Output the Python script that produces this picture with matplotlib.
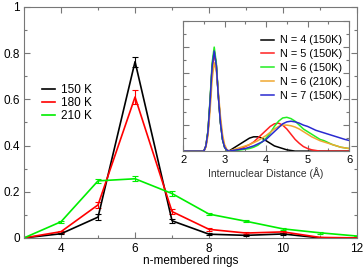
import numpy as np
import matplotlib.pyplot as plt
from matplotlib.lines import Line2D
from matplotlib.ticker import MultipleLocator

plt.rcParams['font.family'] = ['Liberation Sans', 'DejaVu Sans']

# main panel: ring-size distribution
rings = [3, 4, 5, 6, 7, 8, 9, 10, 11, 12]
p150 = [0.0, 0.018, 0.09, 0.763, 0.074, 0.016, 0.011, 0.017, 0.0, 0.0]
e150 = [0.0, 0.003, 0.012, 0.022, 0.008, 0.004, 0.003, 0.004, 0.002, 0.0]
p180 = [0.0, 0.027, 0.143, 0.61, 0.114, 0.037, 0.021, 0.026, 0.002, 0.0]
e180 = [0.0, 0.004, 0.014, 0.03, 0.012, 0.005, 0.004, 0.004, 0.002, 0.0]
p210 = [0.0, 0.07, 0.247, 0.256, 0.192, 0.103, 0.072, 0.039, 0.022, 0.008]
e210 = [0.0, 0.004, 0.01, 0.01, 0.01, 0.005, 0.004, 0.004, 0.003, 0.0]
temps = ['150 K', '180 K', '210 K']

# inset: internuclear distance distributions
dist = [2.0, 2.4, 2.5, 2.55, 2.6, 2.65, 2.7, 2.75, 2.8, 2.85, 2.9, 2.95, 3.0, 3.05,
        3.1, 3.2, 3.3, 3.4, 3.5, 3.6, 3.7, 3.8, 3.9, 4.0, 4.1, 4.2, 4.3, 4.4, 4.5,
        4.6, 4.7, 4.8, 4.9, 5.0, 5.1, 5.2, 5.3, 5.4, 5.5, 5.6, 5.7, 5.8, 5.9, 6.0]
g4 = [0, 0, 0.0, 0.04, 0.15, 0.38, 0.65, 0.77, 0.66, 0.42, 0.22, 0.09, 0.03, 0.01,
      0.0, 0.02, 0.04, 0.06, 0.08, 0.1, 0.11, 0.11, 0.1, 0.08, 0.06, 0.04, 0.03, 0.02, 0.01,
      0.005, 0.0, 0.0, 0.0, 0.0, 0.0, 0.0, 0.0, 0.0, 0.0, 0.0, 0.0, 0.0, 0.0, 0.0]
g5 = [0, 0, 0.0, 0.04, 0.15, 0.37, 0.64, 0.76, 0.66, 0.43, 0.23, 0.1, 0.035, 0.01,
      0.0, 0.005, 0.01, 0.02, 0.035, 0.05, 0.07, 0.1, 0.13, 0.16, 0.19, 0.21, 0.215, 0.2, 0.17,
      0.13, 0.09, 0.06, 0.035, 0.02, 0.01, 0.005, 0.0, 0.0, 0.0, 0.0, 0.0, 0.0, 0.0, 0.0]
g6 = [0, 0, 0.0, 0.04, 0.16, 0.4, 0.68, 0.8, 0.68, 0.43, 0.22, 0.09, 0.03, 0.008,
      0.0, 0.003, 0.006, 0.01, 0.015, 0.02, 0.03, 0.045, 0.07, 0.1, 0.14, 0.19, 0.23, 0.255, 0.26,
      0.25, 0.23, 0.2, 0.17, 0.15, 0.13, 0.11, 0.09, 0.08, 0.065, 0.05, 0.04, 0.03, 0.025, 0.02]
g6h = [0, 0, 0.0, 0.03, 0.12, 0.31, 0.55, 0.68, 0.62, 0.45, 0.27, 0.13, 0.05, 0.015,
       0.0, 0.01, 0.02, 0.03, 0.04, 0.05, 0.065, 0.08, 0.1, 0.12, 0.145, 0.17, 0.19, 0.2, 0.2,
       0.195, 0.185, 0.17, 0.15, 0.13, 0.11, 0.095, 0.08, 0.07, 0.06, 0.05, 0.04, 0.03, 0.025, 0.02]
g7 = [0, 0, 0.0, 0.04, 0.15, 0.38, 0.65, 0.77, 0.66, 0.42, 0.22, 0.09, 0.03, 0.01,
      0.0, 0.005, 0.01, 0.015, 0.02, 0.03, 0.04, 0.055, 0.07, 0.09, 0.12, 0.15, 0.18, 0.21, 0.225,
      0.23, 0.225, 0.215, 0.2, 0.19, 0.175, 0.16, 0.15, 0.14, 0.13, 0.12, 0.11, 0.1, 0.09, 0.082]
inset_labels = ['N = 4 (150K)', 'N = 5 (150K)', 'N = 6 (150K)', 'N = 6 (210K)', 'N = 7 (150K)']

spine_col = '#777777'
main_cols = ['black', '#ff0000', '#00ee00']
inset_cols = ['black', '#ff2020', '#22ee22', '#f0a830', '#2a2ad0']

fig = plt.figure(figsize=(3.64, 2.67), dpi=100)
ax = fig.add_axes([0.066, 0.109, 0.915, 0.865])

kw = dict(lw=1.2, capsize=2.5, elinewidth=0.8, capthick=0.8)
for y, e, c in zip([p150, p180, p210], [e150, e180, e210], main_cols):
    ax.errorbar(rings, y, yerr=e, color=c, **kw)

ax.set_xlim(3, 12)
ax.set_ylim(0, 1)
ax.xaxis.set_minor_locator(MultipleLocator(1))
ax.yaxis.set_minor_locator(MultipleLocator(0.1))
ax.set_yticks([0, 0.2, 0.4, 0.6, 0.8, 1.0])
ax.set_yticklabels(['0', '0.2', '0.4', '0.6', '0.8', '1'])
ax.set_xticks([4, 6, 8, 10, 12])
ax.tick_params(which='both', direction='in', top=True, right=True, labelsize=8.5,
               color=spine_col)
ax.tick_params(axis='x', pad=3.5)
ax.tick_params(axis='y', pad=3)
ax.tick_params(which='major', length=4.5, width=0.8)
ax.tick_params(which='minor', length=2.5, width=0.8)
for s in ax.spines.values():
    s.set_color(spine_col)
    s.set_linewidth(0.8)
ax.set_xlabel('n-membered rings', fontsize=8.5, labelpad=0.5)
handles = [Line2D([], [], color=c, lw=1.2) for c in main_cols]
ax.legend(handles, temps, loc='upper left', bbox_to_anchor=(0.03, 0.70), frameon=False,
          fontsize=8.5, handlelength=1.1, handletextpad=0.5, labelspacing=0.05, borderpad=0.2)

ins = fig.add_axes([0.503, 0.434, 0.456, 0.487])
for y, c, lab in zip([g4, g5, g6, g6h, g7], inset_cols, inset_labels):
    ins.plot(dist, y, color=c, lw=1.1, label=lab)
ins.set_xlim(2, 6)
ins.set_ylim(0, 1)
ins.xaxis.set_major_locator(MultipleLocator(1))
ins.xaxis.set_minor_locator(MultipleLocator(0.5))
ins.yaxis.set_major_locator(MultipleLocator(0.2))
ins.yaxis.set_minor_locator(MultipleLocator(0.1))
ins.set_yticklabels([])
ins.tick_params(which='both', direction='in', top=True, right=True, labelsize=8,
                color=spine_col, pad=3)
ins.tick_params(which='major', length=4, width=0.8)
ins.tick_params(which='minor', length=2.5, width=0.8)
for s in ins.spines.values():
    s.set_color(spine_col)
    s.set_linewidth(0.8)
ins.set_xlabel('Internuclear Distance (Å)', fontsize=7.5, labelpad=1, color='#333333')
ins.legend(loc='upper right', bbox_to_anchor=(0.96, 0.89), frameon=False, fontsize=7.8,
           handlelength=1.2, handletextpad=0.6, labelspacing=0.35, borderpad=0.0,
           borderaxespad=0.0)

fig.savefig('out.png', dpi=100)
